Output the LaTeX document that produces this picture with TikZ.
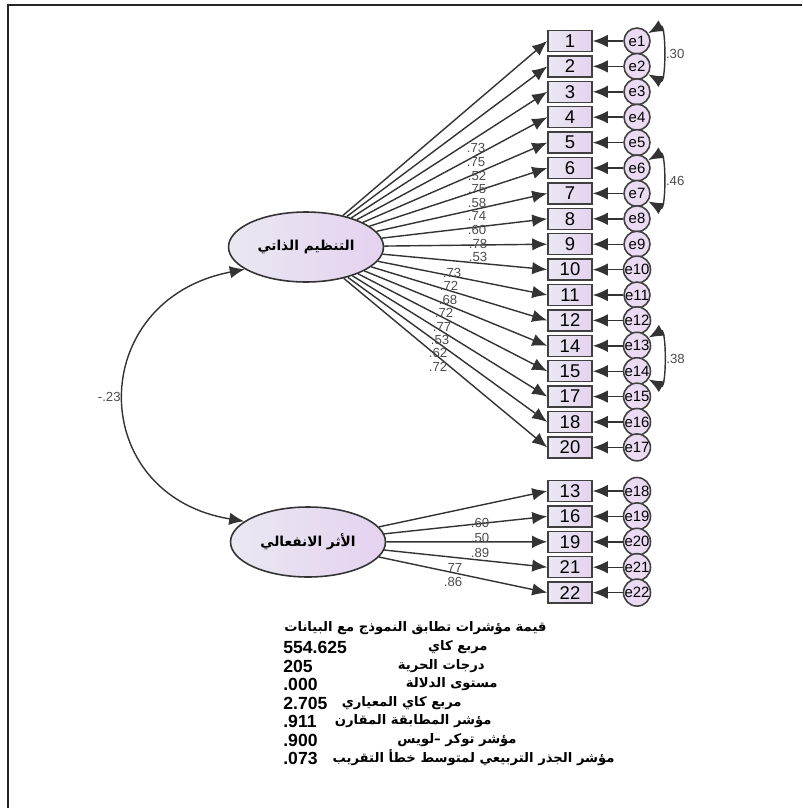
\documentclass[tikz,border=0pt]{standalone}
\usepackage{fontspec}
\setmainfont{Liberation Sans}
\newfontfamily\arabicfont[Script=Arabic]{DejaVu Sans}
\TeXXeTstate=1
\usepackage{xcolor}
\usepackage{tikz}
\usetikzlibrary{shapes.geometric,arrows.meta,calc}

\definecolor{lavL}{HTML}{E9E8F1}
\definecolor{lavR}{HTML}{E5D2F0}
\newcommand{\ar}[1]{{\arabicfont\beginR #1\endR}}
\newcommand{\lt}[1]{{\beginL #1\endL}}

\begin{document}
\begin{tikzpicture}[
    x=0.02cm, y=-0.02cm,
    factor/.style={draw=black!80, ellipse, line width=0.9pt, minimum width=3.1cm,
                   minimum height=1.4cm, left color=lavL, right color=lavR,
                   font=\bfseries\fontsize{7.8}{8}\selectfont},
    item/.style={draw=black!75, rectangle, line width=0.9pt, minimum width=0.88cm,
                 minimum height=0.42cm, inner sep=0pt, left color=lavL, right color=lavR,
                 font=\fontsize{10.5}{10.5}\selectfont},
    err/.style={draw=black!75, circle, line width=0.9pt, minimum size=0.52cm,
                inner sep=0pt, fill=lavR!80, font=\fontsize{8.5}{8.5}\selectfont},
    load/.style={-{Latex[length=0.3cm,width=0.25cm]}, line width=0.8pt, black!80},
    cov/.style={{Latex[length=0.3cm,width=0.25cm]}-{Latex[length=0.3cm,width=0.25cm]},
                line width=0.8pt, black!80},
    coef/.style={font=\fontsize{7.5}{7.5}\selectfont, text=black!70, inner sep=0pt},
    stat/.style={font=\bfseries\fontsize{10}{10}\selectfont, inner sep=0pt},
    statar/.style={font=\bfseries\fontsize{7.5}{7.5}\selectfont, inner sep=0pt}
]
\useasboundingbox (0,0) rectangle (802,808);

% frame
\draw[line width=1.2pt, black!85] (8,808) -- (8,5) -- (802,5);

% latent factors
\node[factor] (self) at (306,247) {\ar{التنظيم الذاتي}};
\node[factor] (emo) at (308,542) {\ar{الأثر الانفعالي}};

% items of the first factor
\foreach \lab [count=\k] in {1,2,3,4,5,6,7,8,9,10,11,12,14,15,17,18,20}{
  \node[item] (i\k) at (570,{41+25.4*(\k-1)}) {\lab};
  \node[err] (e\k) at (637,{41+25.4*(\k-1)}) {e\k};
  \draw[load] (self) -- (i\k.west);
  \draw[load] (e\k) -- (i\k);
}

% items of the second factor
\foreach \lab [count=\k] in {13,16,19,21,22}{
  \pgfmathtruncatemacro\n{\k+17}
  \node[item] (j\k) at (570,{491+25.4*(\k-1)}) {\lab};
  \node[err] (e\n) at (637,{491+25.4*(\k-1)}) {e\n};
  \draw[load] (emo) -- (j\k.west);
  \draw[load] (e\n) -- (j\k);
}

% loadings
\foreach \v/\x/\y in {.73/476/148, .75/476/162, .52/477/176, .75/477/189,
    .58/477/203, .74/477/216, .60/477/230, .78/478/244, .53/478/257,
    .73/452/273, .72/449/286, .68/448/300, .72/444/313, .77/442/327,
    .53/440/340, .62/438/353, .72/438/367,
    .60/480/523, .50/480/538, .89/480/553, .77/453/568, .86/453/582}
  \node[coef] at (\x,\y) {\lt{\v}};

% correlated errors
\draw[cov] (e1.35) .. controls +(18,-10) and +(18,10) .. (e2.-35)
  node[coef, right=2pt, pos=0.5] {\lt{.30}};
\draw[cov] (e6.35) .. controls +(18,-10) and +(18,10) .. (e7.-35)
  node[coef, right=2pt, pos=0.5] {\lt{.46}};
\draw[cov] (e13.35) .. controls +(18,-10) and +(18,10) .. (e14.-35)
  node[coef, right=2pt, pos=0.5] {\lt{.38}};

% factor correlation
\draw[cov] (self.200) .. controls (85,300) and (85,495) .. (emo.162)
  node[coef, left=2pt, pos=0.5] {\lt{-.23}};

% fit indices
\node[statar, anchor=east] (title) at (547,628) {\ar{قيمة مؤشرات تطابق النموذج مع البيانات}};
\foreach \val/\txt/\xr/\y [count=\k] in {
    554.625/{مربع كاي}/488/647,
    205/{درجات الحرية}/485/666,
    .000/{مستوى الدلالة}/498/684,
    2.705/{مربع كاي المعياري}/462/703,
    .911/{مؤشر المطابقة المقارن}/492/721,
    .900/{مؤشر توكر –لويس}/517/740,
    .073/{مؤشر الجذر التربيعي لمتوسط خطأ التقريب}/615/758}{
  \node[stat, anchor=west] (v\k) at (283,\y) {\lt{\val}};
  \node[statar, anchor=east] (t\k) at (\xr,\y) {\ar{\txt}};
}
\end{tikzpicture}
\end{document}
